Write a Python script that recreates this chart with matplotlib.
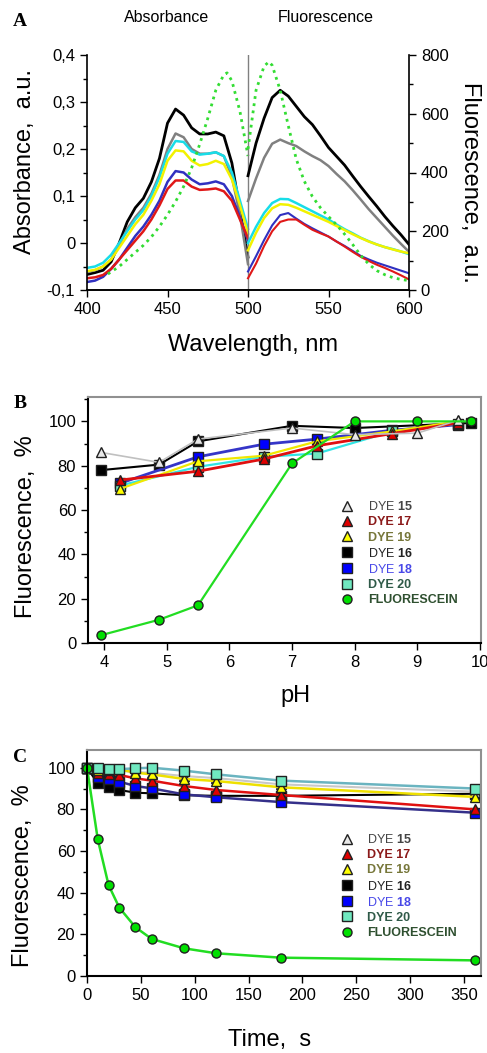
import matplotlib
matplotlib.use('Agg')
import matplotlib.pyplot as plt
from matplotlib.ticker import FuncFormatter, MultipleLocator
from matplotlib.lines import Line2D

plt.rcParams['font.family'] = ['Liberation Sans', 'DejaVu Sans']
plt.rcParams['mathtext.fontset'] = 'custom'
plt.rcParams['mathtext.rm'] = 'Liberation Sans'
plt.rcParams['mathtext.bf'] = 'Liberation Sans:bold'

# ---------------- panel A: spectra ----------------
abs_wl = [400, 405, 410, 415, 420, 425, 430, 435, 440, 445, 450,
          455, 460, 465, 470, 475, 480, 485, 490, 495, 500]
abs_black = [-0.067, -0.063, -0.058, -0.04, 0.0, 0.045, 0.075, 0.095, 0.13, 0.18, 0.255,
             0.285, 0.272, 0.245, 0.232, 0.232, 0.236, 0.228, 0.17, 0.07, -0.03]
abs_gray = [-0.062, -0.058, -0.05, -0.035, -0.005, 0.03, 0.055, 0.075, 0.105, 0.145, 0.2,
            0.233, 0.225, 0.2, 0.19, 0.19, 0.193, 0.185, 0.14, 0.06, -0.045]
abs_cyan = [-0.053, -0.05, -0.042, -0.025, 0.0, 0.025, 0.05, 0.07, 0.1, 0.14, 0.19,
            0.217, 0.215, 0.195, 0.188, 0.19, 0.193, 0.185, 0.15, 0.09, 0.03]
abs_yellow = [-0.06, -0.057, -0.05, -0.035, -0.01, 0.015, 0.04, 0.06, 0.09, 0.125, 0.175,
              0.197, 0.195, 0.175, 0.165, 0.168, 0.175, 0.168, 0.135, 0.08, 0.02]
abs_blue = [-0.083, -0.08, -0.072, -0.055, -0.035, -0.01, 0.015, 0.035, 0.06, 0.09, 0.13,
            0.153, 0.15, 0.135, 0.125, 0.127, 0.131, 0.125, 0.1, 0.055, 0.005]
abs_red = [-0.075, -0.073, -0.068, -0.055, -0.035, -0.015, 0.005, 0.025, 0.05, 0.08, 0.115,
           0.133, 0.133, 0.12, 0.113, 0.114, 0.116, 0.11, 0.09, 0.05, 0.01]
fsc_abs_wl = [413, 420, 425, 430, 435, 440, 445, 450, 455, 460, 465,
              470, 475, 480, 485, 487, 490, 495, 500]
fsc_abs = [-0.066, -0.05, -0.035, -0.02, -0.005, 0.013, 0.035, 0.06, 0.088, 0.12, 0.16,
           0.21, 0.265, 0.325, 0.358, 0.362, 0.345, 0.28, 0.185]

fl_wl = [500, 505, 510, 515, 520, 525, 530, 535, 540, 545, 550,
         555, 560, 565, 570, 575, 580, 585, 590, 595, 600]
fl_black = [389, 500, 585, 655, 680, 660, 625, 590, 563, 525, 485,
            455, 425, 388, 352, 318, 285, 250, 218, 188, 155]
fl_gray = [303, 380, 450, 498, 512, 500, 490, 472, 456, 442, 422,
           395, 370, 340, 308, 275, 245, 215, 185, 157, 130]
fl_cyan = [160, 215, 262, 296, 310, 309, 296, 282, 268, 254, 240,
           223, 207, 193, 178, 166, 155, 146, 139, 131, 122]
fl_yellow = [135, 195, 245, 278, 292, 290, 280, 268, 256, 244, 232,
             218, 204, 190, 177, 165, 155, 146, 138, 131, 125]
fl_blue = [63, 115, 170, 220, 255, 262, 243, 225, 210, 196, 182,
           165, 150, 133, 116, 104, 93, 84, 75, 66, 57]
fl_red = [40, 90, 150, 200, 232, 240, 240, 222, 205, 193, 182,
          165, 148, 130, 113, 99, 86, 75, 63, 50, 36]
fsc_fl_wl = [500, 505, 510, 513, 515, 520, 525, 530, 535, 540, 545,
             550, 555, 560, 565, 570, 575, 580, 585, 590, 595, 600]
fsc_fl = [480, 680, 762, 777, 765, 680, 560, 445, 370, 318, 280,
          250, 222, 190, 155, 118, 88, 66, 52, 42, 36, 32]

# ---------------- panel B: pH ----------------
ph15 = [3.95, 4.88, 5.5, 7.0, 8.0, 9.0, 9.65]
val15 = [86, 81.5, 92, 97, 94, 94.7, 100.5]
ph16 = [3.95, 4.88, 5.5, 7.0, 8.0, 9.85]
val16 = [78, 80.5, 91, 98, 97, 99.3]
ph_dye = [4.25, 5.5, 6.55, 7.4, 8.6, 9.65]
val17 = [73.5, 77.5, 83, 89, 94.5, 99.3]
val18 = [72, 84, 89.7, 92, 96, 98.5]
val19 = [69.5, 82, 84.5, 91, 95.5, 100]
val20 = [71, 79.5, 84, 85.5, 95.5, 99]
ph_fsc = [3.95, 4.88, 5.5, 7.0, 8.0, 9.0, 9.85]
val_fsc = [3.5, 10.5, 17, 81, 100, 100, 100]

# ---------------- panel C: time ----------------
t = [0, 10, 20, 30, 45, 60, 90, 120, 180, 360]
c15 = [100, 99, 99, 98.5, 98, 97.5, 96, 95, 92, 88.5]
c16 = [100, 92.5, 90.5, 89.3, 88, 87.7, 86.8, 86.5, 86.5, 87.5]
c17 = [100, 97.6, 96.8, 96.5, 94.9, 93.8, 91.2, 89.3, 86.9, 80]
c18 = [100, 95.7, 94.4, 93.3, 91.2, 90.1, 87.2, 85.8, 83.5, 78.4]
c19 = [100, 99, 99, 99.2, 97.6, 96.8, 94.6, 93.6, 90.6, 86]
c20 = [100, 100, 99.5, 99.3, 99.7, 100, 98.6, 96.8, 93.8, 90]
c_fsc = [100, 65.6, 43.7, 32.8, 23.4, 17.8, 13.3, 10.9, 8.8, 7.5]

legend_labels = ['DYE $\\mathbf{15}$', 'DYE 17', 'DYE 19', 'DYE $\\mathbf{16}$',
                 'DYE $\\mathbf{18}$', 'DYE 20', 'FLUORESCEIN']
legend_colors = ['#444444', '#8b1a1a', '#77773a', '#222222', '#4848e8', '#2f5a48', '#2f5030']
legend_bold = [False, True, True, False, False, True, True]

W, H = 487, 1053
fig = plt.figure(figsize=(W / 100, H / 100), dpi=100)


def box(l, t_, r, b):
    return [l / W, 1 - b / H, (r - l) / W, (b - t_) / H]


def ftext(x, y, s, **kw):
    fig.text(x / W, 1 - y / H, s, ha='center', va='center', **kw)


# ---- A ----
axA = fig.add_axes(box(87, 55, 409, 290))
axA.plot(abs_wl, abs_black, color='black', lw=2)
axA.plot(abs_wl, abs_gray, color='#808080', lw=1.8)
axA.plot(abs_wl, abs_cyan, color='#18dde8', lw=1.8)
axA.plot(abs_wl, abs_yellow, color='#f2f200', lw=1.8)
axA.plot(abs_wl, abs_blue, color='#3030c0', lw=1.8)
axA.plot(abs_wl, abs_red, color='#e01818', lw=1.8)
axA.plot(fsc_abs_wl, fsc_abs, color='#33dd33', lw=2, ls=(0, (1, 1.6)))
axA.axvline(500, color='#808080', lw=1)
axA.set_xlim(400, 600)
axA.set_ylim(-0.1, 0.4)
axA.set_xticks([400, 450, 500, 550, 600])
axA.set_yticks([-0.1, 0, 0.1, 0.2, 0.3, 0.4])
axA.yaxis.set_minor_locator(MultipleLocator(0.05))
axA.yaxis.set_major_formatter(FuncFormatter(
    lambda v, p: '0' if abs(v) < 1e-9 else ('%.1f' % v).replace('.', ',')))
axA.spines['top'].set_visible(False)
axA.spines['right'].set_visible(False)

axA2 = axA.twinx()
axA2.plot(fl_wl, fl_black, color='black', lw=2)
axA2.plot(fl_wl, fl_gray, color='#808080', lw=1.8)
axA2.plot(fl_wl, fl_cyan, color='#18dde8', lw=1.8)
axA2.plot(fl_wl, fl_yellow, color='#f2f200', lw=1.8)
axA2.plot(fl_wl, fl_blue, color='#3030c0', lw=1.5)
axA2.plot(fl_wl, fl_red, color='#e01818', lw=1.5)
axA2.plot(fsc_fl_wl, fsc_fl, color='#33dd33', lw=2, ls=(0, (1, 1.6)))
axA2.set_ylim(0, 800)
axA2.set_yticks([0, 200, 400, 600, 800])
axA2.yaxis.set_minor_locator(MultipleLocator(100))
axA2.spines['top'].set_visible(False)
axA2.spines['left'].set_visible(False)
for a in (axA, axA2):
    a.tick_params(which='major', direction='out', length=5, width=1, labelsize=12)
    a.tick_params(which='minor', direction='out', length=3, width=1)
    for s in a.spines.values():
        s.set_linewidth(1.2)

ftext(20, 21, 'A', fontsize=14, family='Liberation Serif', weight='bold')
ftext(167, 18, 'Absorbance', fontsize=11.5)
ftext(326, 18, 'Fluorescence', fontsize=11.5)
ftext(25, 162, 'Absorbance,  a.u.', fontsize=17, rotation=90)
ftext(470, 182, 'Fluorescence,  a.u.', fontsize=17, rotation=270)
ftext(253, 345, 'Wavelength, nm', fontsize=17)

# ---- styles for B and C ----
mk = dict(ms=6.5, mec='#202020', mew=1)
s15 = dict(marker='^', mfc='#e8e8e8', **mk)
s17 = dict(marker='^', mfc='#e00000', **mk)
s19 = dict(marker='^', mfc='#ffff00', **mk)
s16 = dict(marker='s', mfc='#000000', **mk)
s18 = dict(marker='s', mfc='#0000ff', **mk)
s20 = dict(marker='s', mfc='#70e8c0', **mk)
sf = dict(marker='o', mfc='#00e000', **mk)


def add_legend(ax, x0, y0):
    handles = [Line2D([], [], ls='none', **s) for s in (s15, s17, s19, s16, s18, s20, sf)]
    leg = ax.legend(handles, legend_labels, loc='upper left', bbox_to_anchor=(x0, y0),
                    frameon=False, fontsize=9, handlelength=0.9, handletextpad=1.2,
                    labelspacing=0.25, borderpad=0, borderaxespad=0)
    for txt, c, b in zip(leg.get_texts(), legend_colors, legend_bold):
        txt.set_color(c)
        if b:
            txt.set_fontweight('bold')


def frame(ax):
    ax.spines['top'].set_color('#909090')
    ax.spines['right'].set_color('#909090')
    for s in ax.spines.values():
        s.set_linewidth(1.5)
    ax.tick_params(which='major', direction='out', length=5, width=1, labelsize=12)
    ax.tick_params(which='minor', direction='out', length=3, width=1)
    ax.tick_params(top=False, right=False, which='both')


# ---- B ----
axB = fig.add_axes(box(88, 397, 481, 643))
axB.plot(ph16, val16, color='black', lw=1.5, **s16)
axB.plot(ph_dye, val18, color='#3535c8', lw=2, **s18)
axB.plot(ph_dye, val20, color='#30e4e4', lw=1.6, **s20)
axB.plot(ph_dye, val19, color='#f0e800', lw=1.6, **s19)
axB.plot(ph_dye, val17, color='#e01010', lw=2, **s17)
axB.plot(ph15, val15, color='#c0c0c0', lw=1.2, **s15)
axB.plot(ph_fsc, val_fsc, color='#22dd22', lw=1.6, **sf)
axB.set_xlim(3.745, 10.016)
axB.set_ylim(0, 111)
axB.set_xticks(range(4, 11))
axB.set_yticks(range(0, 101, 20))
axB.yaxis.set_minor_locator(MultipleLocator(10))
frame(axB)
add_legend(axB, 0.645, 0.58)

ftext(20, 404, 'B', fontsize=14, family='Liberation Serif', weight='bold')
ftext(26, 527, 'Fluorescence,  %', fontsize=17, rotation=90)
ftext(296, 696, 'pH', fontsize=17)

# ---- C ----
axC = fig.add_axes(box(87, 750, 481, 976))
axC.plot(t, c16, color='black', lw=1.5, clip_on=False, **s16)
axC.plot(t, c15, color='#c8c8c8', lw=1.5, clip_on=False, **s15)
axC.plot(t, c18, color='#35308a', lw=1.8, clip_on=False, **s18)
axC.plot(t, c17, color='#e01010', lw=1.8, clip_on=False, **s17)
axC.plot(t, c19, color='#eee000', lw=1.8, clip_on=False, **s19)
axC.plot(t, c20, color='#6ab4c0', lw=1.8, clip_on=False, **s20)
axC.plot(t, c_fsc, color='#22dd22', lw=1.8, clip_on=False, **sf)
axC.set_xlim(0, 365.8)
axC.set_ylim(0, 108.5)
axC.set_xticks(range(0, 351, 50))
axC.set_yticks(range(0, 101, 20))
axC.yaxis.set_minor_locator(MultipleLocator(10))
frame(axC)
add_legend(axC, 0.645, 0.632)

ftext(20, 758, 'C', fontsize=14, family='Liberation Serif', weight='bold')
ftext(23, 876, 'Fluorescence,  %', fontsize=17, rotation=90)
ftext(270, 1040, 'Time,  s', fontsize=17)

fig.savefig('out.png', dpi=100)
